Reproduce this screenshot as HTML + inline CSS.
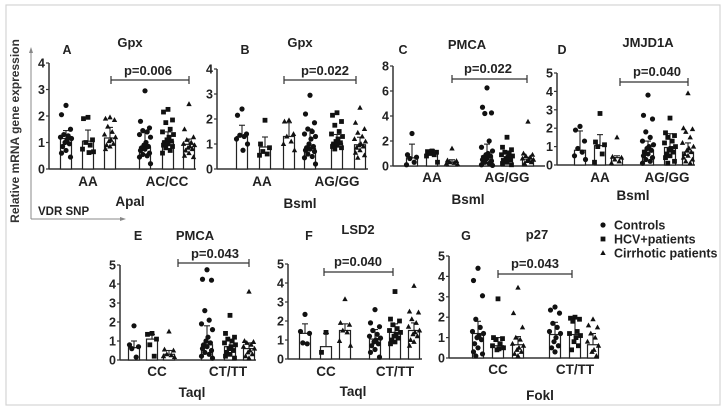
<!DOCTYPE html>
<html><head><meta charset="utf-8"><style>
html,body{margin:0;padding:0;background:#fff}
svg{display:block;font-family:"Liberation Sans",Arial,sans-serif}
</style></head><body>
<svg id="fig" width="726" height="412" viewBox="0 0 726 412">
<rect x="6" y="5" width="714" height="400" fill="none" stroke="#d4d4d4" stroke-width="1.2"/>
<text transform="translate(19,131) rotate(-90)" text-anchor="middle" font-size="12" font-weight="bold" fill="#333">Relative mRNA gene expression</text>
<line x1="31" y1="52" x2="31" y2="219" stroke="#888" stroke-width="1"/>
<polygon points="31,47 29,53 33,53" fill="#888"/>
<line x1="31" y1="219" x2="121" y2="219" stroke="#888" stroke-width="1"/>
<polygon points="126,219 120,217 120,221" fill="#888"/>
<text x="38" y="215" font-size="11.5" font-weight="bold" fill="#222">VDR SNP</text>
<g id="legend"></g>
</svg>
<script>
// Panel A: Gpx / ApaI
const aMeans=[1.15,1.05,1.17,0.82,1.05,0.93];
const aSD=[0.3,0.42,0.4,0.55,0.35,0.2];
const aPts=[[2.4,2.05,1.5,1.3,1.25,1.2,1.15,1.1,1.0,0.95,0.85,0.7,0.6,0.45],[1.95,1.9,1.1,1.0,0.9,0.75,0.65,0.62],[1.95,1.9,1.85,1.6,1.4,1.3,1.2,1.1,1.05,0.95,0.9,0.85,0.75],[2.95,1.8,1.55,1.45,1.4,1.3,1.2,1.0,0.9,0.85,0.8,0.75,0.7,0.6,0.55,0.5,0.45,0.2],[2.25,2.15,1.85,1.75,1.5,1.4,1.3,1.2,1.1,1.05,1.0,0.95,0.9,0.85,0.8,0.7,0.6],[2.45,1.5,1.2,1.1,1.0,0.95,0.9,0.85,0.8,0.75,0.7,0.6,0.5,0.45]];
// Panel B: Gpx / BsmI
const bMeans=[1.3,0.88,1.3,0.82,1.03,0.97];
const bSD=[0.45,0.4,0.55,0.78,0.35,0.3];
const bPts=[[2.4,2.15,1.4,1.35,1.3,1.2,1.0,0.75],[1.95,1.0,0.85,0.7,0.6,0.55],[1.95,1.9,1.4,1.3,1.1,1.0,0.75],[2.95,2.2,1.85,1.6,1.5,1.4,1.3,1.2,1.0,0.9,0.85,0.8,0.75,0.7,0.6,0.5,0.45,0.2],[2.25,2.15,1.9,1.75,1.5,1.4,1.3,1.2,1.1,1.05,1.0,0.95,0.9,0.85,0.8],[2.45,1.85,1.6,1.45,1.3,1.2,1.1,1.0,0.95,0.9,0.85,0.75,0.65,0.55,0.45]];
// Panel C: PMCA / BsmI
const cMeans=[0.65,1.0,0.3,0.8,0.6,0.55];
const cSD=[1.1,0.3,0.2,0.95,0.6,0.15];
const cPts=[[2.6,0.9,0.7,0.6,0.3,0.1],[1.2,1.15,1.1,1.0,0.9,0.8,0.3],[1.4,0.45,0.4,0.3,0.25,0.2,0.15],[6.25,4.7,4.25,4.2,2.0,1.5,1.2,1.0,0.9,0.8,0.7,0.6,0.5,0.4,0.3,0.2,0.1,0.05],[2.3,1.5,1.3,1.1,1.0,0.9,0.8,0.7,0.6,0.5,0.4,0.3,0.2,0.1],[3.55,1.0,0.9,0.8,0.7,0.6,0.5,0.45,0.4,0.3,0.2]];
// Panel D: JMJD1A / BsmI
const dMeans=[0.8,1.05,0.4,0.8,0.95,0.7];
const dSD=[1.05,0.6,0.1,0.5,0.75,0.5];
const dPts=[[2.1,1.9,1.3,0.9,0.7,0.5,0.3],[2.8,1.25,1.1,1.0,0.6,0.15],[1.5,0.45,0.4,0.3,0.2,0.1],[3.8,2.7,2.5,1.8,1.5,1.3,1.1,1.0,0.9,0.8,0.7,0.6,0.5,0.4,0.3,0.2,0.1],[2.55,1.75,1.6,1.5,1.3,1.2,1.0,0.9,0.8,0.7,0.6,0.5,0.4,0.2,0.1],[3.9,2.0,1.95,1.8,1.5,1.2,1.0,0.9,0.8,0.7,0.6,0.5,0.4,0.3,0.2,0.1]];
// Panel E: PMCA / TaqI
const eMeans=[0.65,1.1,0.3,0.8,0.7,0.6];
const eSD=[0.35,0.25,0.2,1.0,0.3,0.3];
const ePts=[[1.8,0.8,0.7,0.6,0.15],[1.4,1.35,1.1,0.8,0.2],[1.5,0.55,0.5,0.3,0.25,0.2,0.15],[4.75,4.25,4.2,2.6,2.1,1.9,1.6,1.2,1.0,0.9,0.8,0.7,0.6,0.5,0.4,0.3,0.2,0.1],[2.35,1.4,1.2,1.1,1.0,0.9,0.8,0.7,0.6,0.5,0.4,0.3,0.2,0.1],[3.6,1.0,0.95,0.9,0.8,0.7,0.6,0.5,0.4,0.3,0.2,0.1]];
// Panel F: LSD2 / TaqI
const fMeans=[1.35,0.65,1.5,1.05,1.4,1.5];
const fSD=[0.5,0.7,0.35,0.5,0.45,0.4];
const fPts=[[2.35,1.45,1.35,0.85,0.8],[1.4,0.35],[3.15,1.9,1.8,1.5,1.4,0.95,0.7],[2.6,1.9,1.7,1.5,1.3,1.2,1.1,1.0,0.9,0.8,0.7,0.5,0.35,0.1],[3.55,2.1,2.0,1.8,1.6,1.5,1.4,1.3,1.2,1.1,1.0,0.9,0.8],[3.85,2.5,2.45,2.1,1.9,1.7,1.5,1.4,1.3,1.2,1.0,0.9,0.7]];
// Panel G: p27 / FokI
const gMeans=[1.2,0.6,0.65,1.15,1.15,0.65];
const gSD=[0.6,0.4,0.4,0.6,0.8,0.55];
const gPts=[[4.4,3.8,3.05,1.9,1.5,1.3,1.2,1.1,1.0,0.9,0.7,0.5,0.3,0.2,0.1],[2.9,1.0,0.95,0.9,0.7,0.6,0.5,0.45,0.4],[3.45,2.2,1.5,1.0,0.9,0.7,0.6,0.5,0.4,0.3,0.2,0.1],[2.5,2.35,2.2,1.7,1.5,1.3,1.2,1.0,0.8,0.6,0.5,0.3],[2.0,1.95,1.9,1.8,1.3,1.2,1.1,1.0,0.8,0.6,0.4],[1.9,1.6,1.5,1.2,1.0,0.8,0.6,0.4,0.3,0.1]];
const tickSets={a:[0,1,2,3,4],b:[0,1,2,3,4],c:[0,2,4,6,8],d:[0,1,2,3,4,5],e:[0,1,2,3,4,5],f:[0,1,2,3,4,5],g:[0,1,2,3,4,5]};
const groupLabels={a:["AA","AC/CC"],b:["AA","AG/GG"],c:["AA","AG/GG"],d:["AA","AG/GG"],e:["CC","CT/TT"],f:["CC","CT/TT"],g:["CC","CT/TT"]};
const pLabels={a:"p=0.006",b:"p=0.022",c:"p=0.022",d:"p=0.040",e:"p=0.043",f:"p=0.040",g:"p=0.043"};
const genes={a:"Gpx",b:"Gpx",c:"PMCA",d:"JMJD1A",e:"PMCA",f:"LSD2",g:"p27"};
const snps={a:"ApaI",b:"BsmI",c:"BsmI",d:"BsmI",e:"TaqI",f:"TaqI",g:"FokI"};
const snpShown={a:"Apal",b:"Bsml",c:"Bsml",d:"Bsml",e:"Taql",f:"Taql",g:"Fokl"};
const seriesNames=["Controls","HCV+patients","Cirrhotic patients"];

const NS="http://www.w3.org/2000/svg";
const svg=document.getElementById('fig');
function mk(tag,attrs,parent,txt){const e=document.createElementNS(NS,tag);for(const k in attrs)e.setAttribute(k,attrs[k]);if(txt!==undefined)e.textContent=txt;(parent||svg).appendChild(e);return e;}
function marker(kind,x,y,parent){
  let m;
  if(kind===0){m=mk('circle',{cx:x,cy:y,r:2.6,fill:'#111'},parent);}
  else if(kind===1){m=mk('rect',{x:x-2.4,y:y-2.4,width:4.8,height:4.8,fill:'#111'},parent);}
  else {m=mk('polygon',{points:`${x},${y-2.9} ${x-2.7},${y+2} ${x+2.7},${y+2}`,fill:'#111'},parent);}
  return m;
}
const L={
 a:{ax:49,xe:196,y0:169,ppu:26.5,bars:[66,88,110,145,168,189],gl:[88,167],gly:186,let:[67,54],gene:[130,47],p:[148,75],br:[111,189,80],snp:[130,206],means:aMeans,sd:aSD,pts:aPts,letter:"A"},
 b:{ax:217,xe:368,y0:169,ppu:25,bars:[242,265,289,310,337,360],gl:[262,337],gly:186,let:[245,54],gene:[300,47],p:[325,75],br:[284,356,80],snp:[300,208],means:bMeans,sd:bSD,pts:bPts,letter:"B"},
 c:{ax:393,xe:545,y0:166,ppu:12.5,bars:[412,432,452,487,507,528],gl:[432,507],gly:182,let:[403,54],gene:[467,49],p:[488,73],br:[452,527,79],snp:[468,204],means:cMeans,sd:cSD,pts:cPts,letter:"C"},
 d:{ax:557,xe:695,y0:165,ppu:18.4,bars:[580,600,617,648,670,688],gl:[600,667],gly:182,let:[562,54],gene:[648,47],p:[657,76],br:[620,688,82],snp:[633,200],means:dMeans,sd:dSD,pts:dPts,letter:"D"},
 e:{ax:120,xe:256,y0:360,ppu:19,bars:[134,152,169,207,230,249],gl:[157,228],gly:376,let:[138,240],gene:[195,240],p:[215,258],br:[178,249,263],snp:[192,397],means:eMeans,sd:eSD,pts:ePts,letter:"E"},
 f:{ax:288,xe:422,y0:359,ppu:19,bars:[305,326,345,375,395,414],gl:[326,395],gly:376,let:[309,240],gene:[358,234],p:[358,266],br:[324,393,272],snp:[353,396],means:fMeans,sd:fSD,pts:fPts,letter:"F"},
 g:{ax:449,xe:599,y0:358,ppu:20.4,bars:[478,498,518,555,575,593],gl:[498,575],gly:374,let:[466,240],gene:[537,239],p:[535,268],br:[498,572,274],snp:[540,400],means:gMeans,sd:gSD,pts:gPts,letter:"G"}
};
const jit=[0,-4.5,4.5,-2.2,2.2,-5.5,5.5,1,-1,3.4,-3.4];
for(const key in L){
  const P=L[key];
  const yS=v=>P.y0-v*P.ppu;
  const g=mk('g',{});
  
  
  const ticks=tickSets[key];
  const top=yS(ticks[ticks.length-1]);
  const ya=mk('line',{x1:P.ax,y1:top,x2:P.ax,y2:P.y0,stroke:'#333','stroke-width':1.5},g);
  
  
  const xa=mk('line',{x1:P.ax,y1:P.y0,x2:P.xe,y2:P.y0,stroke:'#333','stroke-width':1.5},g);
  
  
  ticks.forEach(t=>{
    const y=yS(t);
    mk('line',{x1:P.ax-3,y1:y,x2:P.ax,y2:y,stroke:'#333','stroke-width':1.2},g);
    const tl=mk('text',{x:P.ax-4,y:y+4.5,'text-anchor':'end','font-size':12.5,'font-weight':'bold',fill:'#222'},g,String(t));
    
    
  });
  for(let i=0;i<6;i++){
    const cx=P.bars[i],m=P.means[i],s=P.sd[i];
    const bar=mk('rect',{x:cx-5.5,y:yS(m),width:11,height:m*P.ppu,fill:'#fff',stroke:'#222','stroke-width':1.2},g);
    
    
    mk('line',{x1:cx,y1:yS(m),x2:cx,y2:yS(m+s),stroke:'#222','stroke-width':1.1},g);
    mk('line',{x1:cx-3,y1:yS(m+s),x2:cx+3,y2:yS(m+s),stroke:'#222','stroke-width':1.1},g);
    P.pts[i].forEach((v,j)=>{
      const pt=marker(i%3,cx+jit[j%jit.length],yS(v),g);
      
      
    });
  }
  P.gl.forEach((x,i)=>{
    const t=mk('text',{x:x,y:P.gly,'text-anchor':'middle','font-size':13.5,'font-weight':'bold',fill:'#222'},g,groupLabels[key][i]);
    
    
  });
  const lt=mk('text',{x:P.let[0],y:P.let[1],'text-anchor':'middle','font-size':12.5,'font-weight':'bold',fill:'#222'},g,P.letter);
  
  
  const gt=mk('text',{x:P.gene[0],y:P.gene[1],'text-anchor':'middle','font-size':13,'font-weight':'bold',fill:'#222'},g,genes[key]);
  
  
  const pt=mk('text',{x:P.p[0],y:P.p[1],'text-anchor':'middle','font-size':13,'font-weight':'bold',fill:'#222'},g,pLabels[key]);
  
  
  const b=P.br;
  const br=mk('path',{d:`M${b[0]},${b[2]-4}V${b[2]+4}M${b[0]},${b[2]}H${b[1]}M${b[1]},${b[2]-4}V${b[2]+4}`,stroke:'#333','stroke-width':1.2,fill:'none'},g);
  
  
  const st=mk('text',{x:P.snp[0],y:P.snp[1],'text-anchor':'middle','font-size':13.5,'font-weight':'bold',fill:'#222'},g,snpShown[key]);
  
  
}
const lg=document.getElementById('legend');
seriesNames.forEach((n,i)=>{
  const y=225+i*14;
  const m=marker(i,603,y,lg);
  
  
  const t=mk('text',{x:614,y:y+4.5,'font-size':12.5,'font-weight':'bold',fill:'#222'},lg,n);
  
  
});
</script>
</body></html>
